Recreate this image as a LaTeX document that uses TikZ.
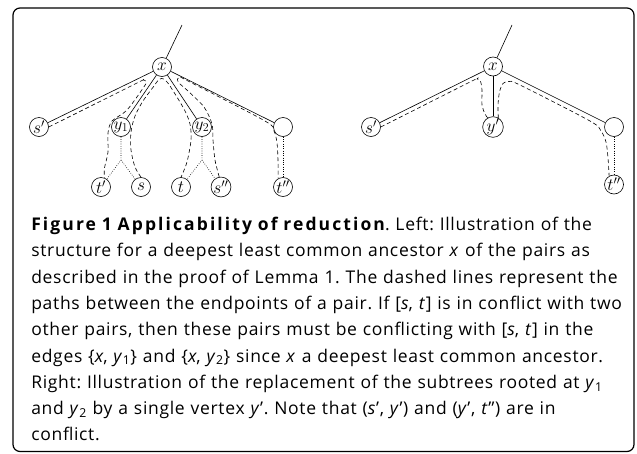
\documentclass[tikz,border=0pt]{standalone}
\usepackage[no-math]{fontspec}
\setmainfont{Open Sans}[LetterSpace=4]
\begin{document}
\frenchspacing
\begin{tikzpicture}[x=1pt,y=-1pt,line width=0.6pt,
  vtx/.style={circle,draw,minimum size=19pt,inner sep=0pt,font=\fontsize{17.28}{17.28}\selectfont},
  pairpath/.style={dash pattern=on 4pt off 2.8pt},
  subpath/.style={dash pattern=on 0.7pt off 1.6pt},
  frame/.style={line width=1.2pt,rounded corners=7pt}]
\useasboundingbox (0,0) rectangle (637,453);
\draw[frame] (13,8) rectangle (634,451.5);
% ---- left tree
\node[vtx] (x) at (162,67) {$x$};
\coordinate (xtop) at (182,25);
\node[vtx] (sp) at (39,127) {$s'$};
\node[vtx] (y1) at (121,127) {$y_1$};
\node[vtx] (y2) at (202,127) {$y_2$};
\node[vtx] (r) at (283,127) {};
\node[vtx] (tp) at (101,187) {$t'$};
\node[vtx] (s) at (141,187) {$s$};
\node[vtx] (t) at (181,187) {$t$};
\node[vtx] (spp) at (221,187) {$s''$};
\node[vtx] (tpp) at (283,187) {$t''$};
\coordinate (j1) at (121,160);
\coordinate (j2) at (202,160);
\draw (x) -- (xtop);
\draw (x) -- (sp);
\draw (x) -- (y1);
\draw (x) -- (y2);
\draw (x) -- (r);
\draw[subpath] (y1) -- (j1) -- (tp);
\draw[subpath] (j1) -- (s);
\draw[subpath] (y2) -- (j2) -- (t);
\draw[subpath] (j2) -- (spp);
\draw[subpath] (r) -- (tpp);
\draw[pairpath] plot[smooth,tension=0.5] coordinates {(sp.east) (138,82.5) (143,80) (146,81.5) (144.5,86) (127,110) (112,121) (108,133) (108,152) (104.5,168) (tp.70)};
\draw[pairpath] plot[smooth,tension=0.5] coordinates {(s.north) (135,167) (131,150) (131,132) (135,116) (143,101) (154,86) (158,80.5) (161.5,78.5) (165,80) (170,86) (184,109) (190,124) (191,140) (187,162) (t.north)};
\draw[pairpath] plot[smooth,tension=0.5] coordinates {(spp.100) (215,160) (213,140) (212,124) (204,107) (188,91) (179,83) (177.5,79) (180.5,77.5) (188,81) (265,121) (274,131) (277,143) (278,160) (tpp.120)};
% ---- right tree
\node[vtx] (x2) at (493,66.5) {$x$};
\coordinate (x2top) at (512,25);
\node[vtx] (sp2) at (371,127) {$s'$};
\node[vtx] (yp) at (493,127) {$y'$};
\node[vtx] (r2) at (614,127) {};
\node[vtx] (tpp2) at (614,184.5) {$t''$};
\draw (x2) -- (x2top);
\draw (x2) -- (sp2);
\draw (x2) -- (yp);
\draw (x2) -- (r2);
\draw[subpath] (r2) -- (tpp2);
\draw[pairpath] plot[smooth,tension=0.5] coordinates {(sp2.east) (471,81.5) (477,79) (480.5,81.5) (482,90) (482,105) (485,114) (yp.120)};
\draw[pairpath] plot[smooth,tension=0.5] coordinates {(yp.60) (498,105) (499.5,92) (503,83.5) (509,81.5) (520,85) (590,121) (601,131) (606,142) (608,158) (tpp2.120)};
% ---- caption
\node[anchor=base west,inner sep=0pt,text width=604pt,align=left,font=\fontsize{17.5}{26.3}\selectfont] (cap) at (31,230.5)
{{\bfseries\addfontfeatures{LetterSpace=12}Figure 1 Applicability of reduction}. Left: Illustration of the\\
structure for a deepest least common ancestor \textit{x} of the pairs as\\
described in the proof of Lemma 1. The dashed lines represent the\\
paths between the endpoints of a pair. If [\textit{s}, \textit{t}] is in conflict with two\\
other pairs, then these pairs must be conflicting with [\textit{s}, \textit{t}] in the\\
edges \{\textit{x}, \textit{y}\textsubscript{1}\} and \{\textit{x}, \textit{y}\textsubscript{2}\} since \textit{x} a deepest least common ancestor.\\
Right: Illustration of the replacement of the subtrees rooted at \textit{y}\textsubscript{1}\\
and \textit{y}\textsubscript{2} by a single vertex \textit{y}'. Note that (\textit{s}', \textit{y}') and (\textit{y}', \textit{t}'') are in\\
conflict.};
\end{tikzpicture}
\end{document}
